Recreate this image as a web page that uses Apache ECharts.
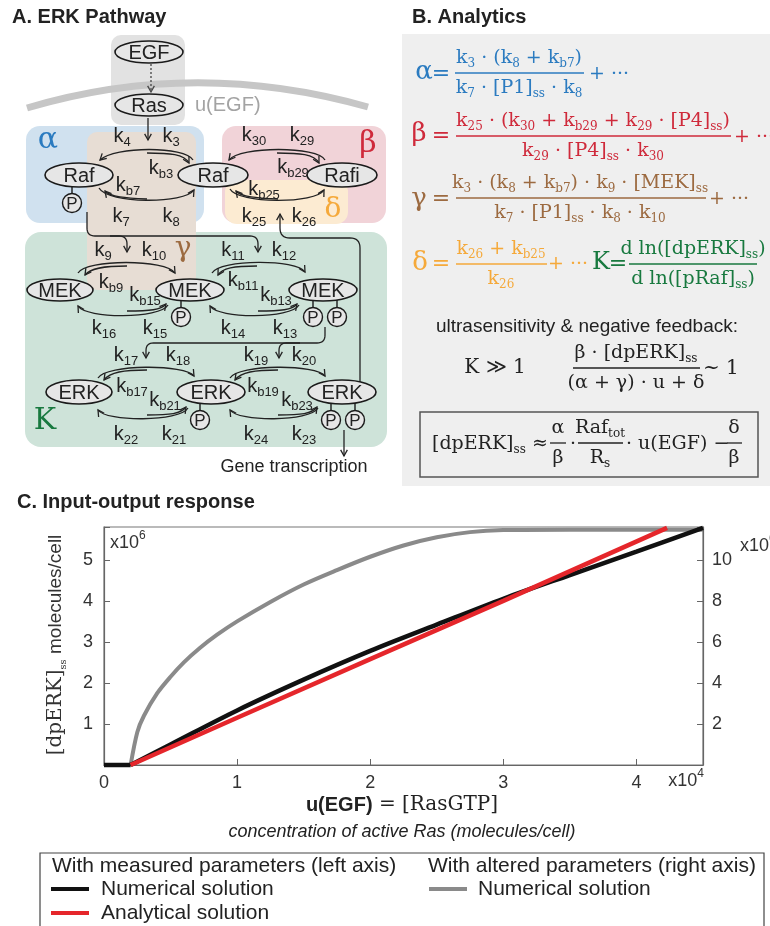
<!DOCTYPE html>
<html>
<head>
<meta charset="utf-8">
<script src="https://cdn.jsdelivr.net/npm/echarts@6/dist/echarts.min.js"></script>
<style>
  html, body { margin: 0; padding: 0; background: #fff; }
  #main { width: 770px; height: 926px; }
</style>
</head>
<body>
<div id="main"></div>
<script>
// ---- Input-output response data (u(EGF) in units of 1e4 molecules/cell) ----
// below the activation threshold both numerical solutions stay at zero
const uBaseline = [0, 0.2];
const dpErkBaseline = [0, 0];
// measured parameters, numerical solution (left axis, x1e6)
const uNumerical = [0.2, 0.5, 1, 1.5, 2, 2.5, 3, 3.5, 4, 4.5];
const dpErkNumerical = [0, 0.5, 1.33, 2.08, 2.78, 3.42, 4.05, 4.63, 5.2, 5.78];
// measured parameters, analytical solution (left axis, x1e6)
const uAnalytical = [0.2, 1, 2, 3, 4.23];
const dpErkAnalytical = [0, 1.15, 2.58, 4.0, 5.78];
// altered parameters, numerical solution (right axis, x1e6)
const uAltered = [0.2, 0.25, 0.3, 0.4, 0.5, 0.6, 0.72, 0.85, 1, 1.25, 1.5, 1.75, 2, 2.25, 2.5, 2.75, 3, 3.5, 4.5];
const dpErkAltered = [0, 1.6, 2.4, 3.5, 4.3, 5.0, 5.7, 6.35, 7.0, 7.95, 8.8, 9.5, 10.15, 10.7, 11.1, 11.35, 11.45, 11.47, 11.47];

const xTicks = [0, 1, 2, 3, 4];
const leftTicks = [1, 2, 3, 4, 5];
const rightTicks = [2, 4, 6, 8, 10];

const legendLeftTitle = 'With measured parameters (left axis)';
const legendRightTitle = 'With altered parameters (right axis)';
const seriesNames = ['Numerical solution', 'Analytical solution', 'Numerical solution'];

const SANS = "'Liberation Sans', Arial, sans-serif";
const SERIF = "'DejaVu Serif', serif";
const INK = '#222';
const BLUE = '#2b7bc0', RED = '#cf2a3b', BROWN = '#9c6a40', ORANGE = '#f5a93a', GREEN = '#18793f';
const C_NUM = '#111', C_ANA = '#e5262b', C_ALT = '#8a8a8a';

const els = [];

// ---------- helpers ----------
function markup(s) {
  let out = '', last = 0, m;
  const re = /([_^])\{([^}]*)\}/g;
  while ((m = re.exec(s))) {
    if (m.index > last) out += '{n|' + s.slice(last, m.index) + '}';
    out += '{' + (m[1] === '_' ? 's' : 'u') + '|' + m[2] + '}';
    last = re.lastIndex;
  }
  if (last < s.length) out += '{n|' + s.slice(last) + '}';
  return out;
}
function T(x, y, s, o) {
  o = o || {};
  const F = o.size || 20, fam = o.family || SANS, col = o.color || INK;
  const w = o.weight || 'normal', fs = o.fstyle || 'normal';
  const sub = o.sub || Math.round(F * 0.65);
  const lh = Math.round(F * 1.3);
  const rich = {
    n: { fontSize: F, fontFamily: fam, fill: col, fontWeight: w, fontStyle: fs, lineHeight: lh },
    s: { fontSize: sub, fontFamily: fam, fill: col, fontWeight: w, fontStyle: fs, lineHeight: lh,
         padding: [Math.round(F * (o.drop || 0.6)), 0, 0, 0] },
    u: { fontSize: sub, fontFamily: fam, fill: col, fontWeight: w, fontStyle: fs, lineHeight: lh,
         padding: [0, 0, Math.round(F * 0.75), 0] }
  };
  Object.assign(rich, o.rich || {});
  els.push({
    type: 'text', x: x, y: y, rotation: o.rot || 0, z: 30, silent: true,
    style: {
      text: o.raw ? s : markup(s), fill: col, fontSize: F, fontFamily: fam,
      align: o.align || 'center', verticalAlign: 'middle', rich: rich
    }
  });
}
function rect(x, y, w, h, r, fill, stroke, lw) {
  els.push({ type: 'rect', z: 1, silent: true, shape: { x: x, y: y, width: w, height: h, r: r },
    style: { fill: fill || 'none', stroke: stroke || 'none', lineWidth: lw || 0 } });
}
function seg(x1, y1, x2, y2, col, lw, dash) {
  els.push({ type: 'line', z: 12, silent: true, shape: { x1: x1, y1: y1, x2: x2, y2: y2 },
    style: { stroke: col || INK, lineWidth: lw || 1.3, lineDash: dash || null } });
}
function head(x, y, dx, dy, col) {
  const L = Math.hypot(dx, dy), ux = dx / L, uy = dy / L, len = 7, a = 0.5;
  const p = (t) => [x - len * (ux * Math.cos(t) - uy * Math.sin(t)),
                    y - len * (uy * Math.cos(t) + ux * Math.sin(t))];
  els.push({ type: 'polyline', z: 12, silent: true, shape: { points: [p(a), [x, y], p(-a)] },
    style: { stroke: col || INK, lineWidth: 1.3, fill: 'none' } });
}
function curve(x1, y1, c1x, c1y, c2x, c2y, x2, y2, arrow) {
  els.push({ type: 'bezierCurve', z: 12, silent: true,
    shape: { x1: x1, y1: y1, cpx1: c1x, cpy1: c1y, cpx2: c2x, cpy2: c2y, x2: x2, y2: y2 },
    style: { stroke: INK, lineWidth: 1.3, fill: 'none' } });
  if (arrow !== false) head(x2, y2, x2 - c2x, y2 - c2y);
}
// orthogonal route with rounded corners
function route(pts, r) {
  r = r || 8;
  const out = [pts[0]];
  for (let i = 1; i < pts.length - 1; i++) {
    const A = pts[i - 1], P = pts[i], B = pts[i + 1];
    const la = Math.hypot(P[0] - A[0], P[1] - A[1]), lb = Math.hypot(B[0] - P[0], B[1] - P[1]);
    const rr = Math.min(r, la / 2, lb / 2);
    const p1 = [P[0] - rr * (P[0] - A[0]) / la, P[1] - rr * (P[1] - A[1]) / la];
    const p2 = [P[0] + rr * (B[0] - P[0]) / lb, P[1] + rr * (B[1] - P[1]) / lb];
    for (let k = 0; k <= 8; k++) {
      const t = k / 8;
      out.push([(1 - t) * (1 - t) * p1[0] + 2 * t * (1 - t) * P[0] + t * t * p2[0],
                (1 - t) * (1 - t) * p1[1] + 2 * t * (1 - t) * P[1] + t * t * p2[1]]);
    }
  }
  out.push(pts[pts.length - 1]);
  els.push({ type: 'polyline', z: 12, silent: true, shape: { points: out },
    style: { stroke: INK, lineWidth: 1.3, fill: 'none' } });
}
function node(cx, cy, rx, ry, label) {
  els.push({ type: 'ellipse', z: 14, silent: true, shape: { cx: cx, cy: cy, rx: rx, ry: ry },
    style: { fill: '#e6e6e6', stroke: '#1a1a1a', lineWidth: 1.6 } });
  T(cx, cy + 1, label, { size: 20 });
}
function phospho(ncx, ncy, rx, ry, px, py) {
  const dx = px - ncx;
  const top = ncy + ry * Math.sqrt(Math.max(0, 1 - (dx / rx) * (dx / rx)));
  seg(px, top, px, py - 9.5, '#1a1a1a', 1.4);
  els.push({ type: 'circle', z: 14, silent: true, shape: { cx: px, cy: py, r: 9.5 },
    style: { fill: '#e6e6e6', stroke: '#1a1a1a', lineWidth: 1.4 } });
  T(px, py + 1, 'P', { size: 17 });
}

// ---------- panel titles ----------
T(12, 17, 'A. ERK Pathway', { size: 20, weight: 'bold', align: 'left', color: '#222' });
T(412, 17, 'B. Analytics', { size: 20, weight: 'bold', align: 'left', color: '#222' });
T(17, 502, 'C. Input-output response', { size: 20, weight: 'bold', align: 'left', color: '#222' });

// ---------- panel A: pathway ----------
rect(111, 35, 74, 90, 10, '#e2e2e2');
els.push({ type: 'bezierCurve', z: 2, silent: true,
  shape: { x1: 27, y1: 108, cpx1: 195, cpy1: 58, x2: 368, y2: 107 },
  style: { stroke: '#c6c6c6', lineWidth: 7, fill: 'none' } });
rect(26, 126, 178, 97, 14, '#d0e1ef');
rect(222, 126, 164, 97, 14, '#f1d3d8');
rect(225, 180, 123, 44, 12, '#fcebd2');
rect(25, 232, 362, 215, 16, '#cee3d9');
rect(87, 132, 109, 158, 10, '#e7ddd4');

T(48, 140, 'α', { family: SERIF, size: 30, color: BLUE });
T(368, 144, 'β', { family: SERIF, size: 30, color: RED });
T(333, 210, 'δ', { family: SERIF, size: 28, color: ORANGE });
T(183, 249, 'γ', { family: SERIF, size: 28, color: BROWN });
T(45, 421, 'K', { family: SERIF, size: 30, color: GREEN });

node(149, 52, 34, 11, 'EGF');
node(149, 105, 34, 11, 'Ras');
T(195, 105, 'u(EGF)', { size: 20, color: '#a3a3a3', align: 'left' });
seg(151, 64, 151, 92, '#444', 1.3, [2, 2]);
head(151, 92, 0, 1, '#444');
seg(148, 118, 148, 140); head(148, 140, 0, 1);

node(79, 175, 34, 12, 'Raf');
node(213, 175, 35, 12, 'Raf');
node(342, 175, 35, 12, 'Rafi');
phospho(79, 175, 34, 12, 72, 203);

// Raf <-> Raf (alpha)
curve(193, 160, 185, 146, 115, 146, 100, 160);
curve(147, 153, 170, 153, 184, 154, 189, 163);
curve(99, 188, 108, 204, 185, 204, 194, 190);
curve(147, 199, 126, 198, 110, 197, 105, 191);
T(122, 136, 'k_{4}'); T(171, 136, 'k_{3}');
T(161, 168, 'k_{b3}'); T(128, 185, 'k_{b7}');
T(121, 216, 'k_{7}'); T(171, 216, 'k_{8}');

// Raf <-> Rafi (beta, delta)
curve(325, 160, 318, 146, 240, 146, 229, 160);
curve(277, 153, 300, 153, 314, 154, 319, 163);
curve(230, 189, 238, 204, 316, 204, 324, 190);
curve(278, 199, 257, 198, 241, 197, 236, 191);
T(254, 135, 'k_{30}'); T(302, 135, 'k_{29}');
T(293, 167, 'k_{b29}'); T(264, 189, 'k_{b25}');
T(254, 216, 'k_{25}'); T(304, 216, 'k_{26}');

// MEK row
node(60, 290, 33, 11, 'MEK');
node(190, 290, 34, 11, 'MEK');
node(323, 290, 34, 11, 'MEK');
phospho(190, 290, 34, 11, 181, 317);
phospho(323, 290, 34, 11, 313, 317);
phospho(323, 290, 34, 11, 337, 317);

route([[87, 212], [87, 236], [258, 236], [258, 252]], 8); head(258, 252, 0, 1);
route([[110, 236], [127, 236], [127, 252]], 8); head(127, 252, 0, 1);

curve(78, 273, 86, 259, 166, 259, 175, 273);
curve(127, 266, 104, 266, 90, 268, 85, 275);
curve(168, 305, 160, 319, 86, 319, 78, 306);
curve(127, 311, 150, 311, 161, 310, 166, 304);
T(103, 250, 'k_{9}'); T(154, 250, 'k_{10}');
T(111, 282, 'k_{b9}'); T(145, 295, 'k_{b15}');
T(104, 328, 'k_{16}'); T(155, 328, 'k_{15}');

curve(212, 273, 220, 259, 297, 259, 305, 272);
curve(257, 266, 234, 266, 222, 268, 218, 275);
curve(299, 305, 291, 319, 218, 319, 210, 306);
curve(258, 311, 281, 311, 292, 310, 297, 304);
T(233, 250, 'k_{11}'); T(284, 250, 'k_{12}');
T(243, 280, 'k_{b11}'); T(276, 295, 'k_{b13}');
T(233, 328, 'k_{14}'); T(285, 328, 'k_{13}');

// ERK row
node(79, 392, 33, 12, 'ERK');
node(211, 392, 34, 12, 'ERK');
node(342, 392, 34, 12, 'ERK');
phospho(211, 392, 34, 12, 200, 420);
phospho(342, 392, 34, 12, 331, 420);
phospho(342, 392, 34, 12, 355, 420);

route([[325, 327], [325, 343], [146, 343], [146, 358]], 8); head(146, 358, 0, 1);
route([[300, 343], [279, 343], [279, 358]], 8); head(279, 358, 0, 1);

curve(98, 378, 106, 364, 186, 364, 194, 376);
curve(147, 370, 124, 370, 110, 372, 104, 380);
curve(188, 408, 180, 422, 106, 422, 98, 410);
curve(147, 415, 170, 415, 181, 414, 186, 407);
T(126, 355, 'k_{17}'); T(178, 355, 'k_{18}');
T(132, 386, 'k_{b17}'); T(165, 400, 'k_{b21}');
T(126, 434, 'k_{22}'); T(174, 434, 'k_{21}');

curve(230, 378, 238, 364, 317, 364, 325, 376);
curve(278, 370, 255, 370, 241, 372, 235, 380);
curve(318, 408, 310, 422, 238, 422, 230, 410);
curve(278, 415, 301, 415, 312, 414, 317, 407);
T(256, 355, 'k_{19}'); T(304, 355, 'k_{20}');
T(263, 386, 'k_{b19}'); T(297, 400, 'k_{b23}');
T(256, 434, 'k_{24}'); T(304, 434, 'k_{23}');

// negative feedback and output
route([[360, 382], [360, 238], [280, 238], [280, 214]], 10); head(280, 214, 0, -1);
seg(344, 430, 344, 456); head(344, 456, 0, 1);
T(294, 467, 'Gene transcription', { size: 18 });

// ---------- panel B: analytics ----------
rect(402, 34, 370, 452, 0, '#efefef');
const EQ = 19;
function frac(cx, y, num, den, x1, x2, col, size) {
  T(cx, y - 15, num, { family: SERIF, size: size || EQ, color: col });
  T(cx, y + 15, den, { family: SERIF, size: size || EQ, color: col });
  seg(x1, y, x2, y, col, 1.3);
}
T(424, 72, 'α', { family: SERIF, size: 26, color: BLUE });
T(441, 74, '=', { family: SERIF, size: 22, color: BLUE });
frac(519, 73, 'k_{3} · (k_{8} + k_{b7})', 'k_{7} · [P1]_{ss} · k_{8}', 455, 584, BLUE);
T(589, 74, '+ ···', { family: SERIF, size: EQ, color: BLUE, align: 'left' });

T(419, 134, 'β', { family: SERIF, size: 26, color: RED });
T(441, 136, '=', { family: SERIF, size: 22, color: RED });
frac(593, 136, 'k_{25} · (k_{30} + k_{b29} + k_{29} · [P4]_{ss})', 'k_{29} · [P4]_{ss} · k_{30}', 456, 731, RED);
T(734, 137, '+ ···', { family: SERIF, size: EQ, color: RED, align: 'left' });

T(419, 199, 'γ', { family: SERIF, size: 26, color: BROWN });
T(441, 199, '=', { family: SERIF, size: 22, color: BROWN });
frac(580, 198, 'k_{3} · (k_{8} + k_{b7}) · k_{9} · [MEK]_{ss}', 'k_{7} · [P1]_{ss} · k_{8} · k_{10}', 456, 706, BROWN);
T(709, 199, '+ ···', { family: SERIF, size: EQ, color: BROWN, align: 'left' });

T(420, 263, 'δ', { family: SERIF, size: 26, color: ORANGE });
T(441, 264, '=', { family: SERIF, size: 22, color: ORANGE });
frac(501, 264, 'k_{26} + k_{b25}', 'k_{26}', 456, 547, ORANGE);
T(548, 264, '+ ···', { family: SERIF, size: EQ, color: ORANGE, align: 'left' });

T(601, 263, 'K', { family: SERIF, size: 24, color: GREEN });
T(618, 264, '=', { family: SERIF, size: 22, color: GREEN });
frac(693, 264, 'd ln([dpERK]_{ss})', 'd ln([pRaf]_{ss})', 629, 757, GREEN);

T(587, 327, 'ultrasensitivity & negative feedback:', { size: 19, color: '#222' });
T(495, 368, 'K ≫ 1', { family: SERIF, size: 20, color: '#222' });
frac(636, 368, 'β · [dpERK]_{ss}', '(α + γ) · u + δ', 573, 700, '#222', 19);
T(703, 369, '~ 1', { family: SERIF, size: 20, color: '#222', align: 'left' });

rect(420, 412, 338, 65, 0, 'none', '#555', 1.5);
T(432, 444, '[dpERK]_{ss} ≈', { family: SERIF, size: 19, color: '#222', align: 'left' });
frac(558, 443, 'α', 'β', 550, 566, '#222', 19);
T(573, 444, '·', { family: SERIF, size: 19, color: '#222' });
frac(600, 443, 'Raf_{tot}', 'R_{s}', 578, 623, '#222', 19);
T(626, 444, '· u(EGF) −', { family: SERIF, size: 19, color: '#222', align: 'left' });
frac(734, 443, 'δ', 'β', 727, 742, '#222', 19);

// ---------- panel C: annotations ----------
T(110, 543, 'x10^{6}', { size: 18, color: '#333', align: 'left' });
T(704, 781, 'x10^{4}', { size: 18, color: '#333', align: 'right' });
T(740, 546, 'x10^{6}', { size: 18, color: '#333', align: 'left' });

T(56, 645, '{sf|[dpERK]}{ss|ss}{n| molecules/cell}', {
  raw: true, size: 19, color: '#333', rot: Math.PI / 2,
  rich: {
    sf: { fontSize: 20, fontFamily: SERIF, fill: '#333', lineHeight: 28 },
    ss: { fontSize: 10, fontFamily: SERIF, fill: '#333', lineHeight: 28, padding: [14, 0, 0, 0] }
  }
});
T(402, 805, '{b|u(EGF)}{sf| = [RasGTP]}', {
  raw: true, size: 20, color: '#222',
  rich: {
    b: { fontSize: 20, fontFamily: SANS, fontWeight: 'bold', fill: '#222', lineHeight: 26 },
    sf: { fontSize: 20, fontFamily: SERIF, fill: '#222', lineHeight: 26 }
  }
});
T(402, 832, 'concentration of active Ras (molecules/cell)', { size: 18, fstyle: 'italic', color: '#222' });

// legend
rect(40, 853, 724, 90, 0, '#fff', '#444', 1.2);
T(52, 866, legendLeftTitle, { size: 21, align: 'left' });
T(428, 866, legendRightTitle, { size: 21, align: 'left' });
seg(51, 889, 89, 889, C_NUM, 4);
T(101, 889, seriesNames[0], { size: 21, align: 'left' });
seg(51, 913, 89, 913, C_ANA, 4);
T(101, 913, seriesNames[1], { size: 21, align: 'left' });
seg(429, 889, 467, 889, C_ALT, 4);
T(478, 889, seriesNames[2], { size: 21, align: 'left' });

// ---------- chart ----------
const pairs = (xs, ys) => xs.map((x, i) => [x, ys[i]]);
const labelStyle = { color: '#333', fontSize: 18, fontFamily: SANS };

const option = {
  animation: false,
  backgroundColor: '#fff',
  grid: { left: 104, right: 67, top: 527, bottom: 161, show: true, borderColor: '#777', borderWidth: 1.2, backgroundColor: 'transparent' },
  xAxis: {
    type: 'value', min: 0, max: 4.5, interval: 1,
    axisLine: { lineStyle: { color: '#666', width: 1.2 } },
    axisTick: { inside: true, length: 6, lineStyle: { color: '#666' } },
    splitLine: { show: false },
    axisLabel: Object.assign({ margin: 9, formatter: v => xTicks.includes(v) ? String(v) : '' }, labelStyle)
  },
  yAxis: [
    {
      type: 'value', position: 'left', min: 0, max: 5.8, interval: 1,
      axisLine: { show: true, lineStyle: { color: '#666', width: 1.2 } },
      axisTick: { show: true, inside: true, length: 6, lineStyle: { color: '#666' } },
      splitLine: { show: false },
      axisLabel: Object.assign({ margin: 11, formatter: v => leftTicks.includes(v) ? String(v) : '' }, labelStyle)
    },
    {
      type: 'value', position: 'right', min: 0, max: 11.6, interval: 2,
      axisLine: { show: true, lineStyle: { color: '#666', width: 1.2 } },
      axisTick: { show: true, inside: true, length: 6, lineStyle: { color: '#666' } },
      splitLine: { show: false },
      axisLabel: Object.assign({ margin: 9, formatter: v => rightTicks.includes(v) ? String(v) : '' }, labelStyle)
    }
  ],
  series: [
    {
      name: 'altered', type: 'line', yAxisIndex: 1, data: pairs(uAltered, dpErkAltered),
      showSymbol: false, smooth: 0.3, clip: false,
      lineStyle: { color: C_ALT, width: 4 }, z: 2
    },
    {
      name: 'baseline', type: 'line', yAxisIndex: 0, data: pairs(uBaseline, dpErkBaseline),
      showSymbol: false, clip: false,
      lineStyle: { color: C_NUM, width: 4.5 }, z: 3
    },
    {
      name: 'numerical', type: 'line', yAxisIndex: 0, data: pairs(uNumerical, dpErkNumerical),
      showSymbol: false, smooth: 0.35, clip: false,
      lineStyle: { color: C_NUM, width: 4.5 }, z: 3
    },
    {
      name: 'analytical', type: 'line', yAxisIndex: 0, data: pairs(uAnalytical, dpErkAnalytical),
      showSymbol: false, clip: false,
      lineStyle: { color: C_ANA, width: 4.5 }, z: 4
    }
  ],
  graphic: { elements: els }
};

const chart = echarts.init(document.getElementById('main'), null, { renderer: 'canvas' });
chart.setOption(option);
</script>
</body>
</html>
